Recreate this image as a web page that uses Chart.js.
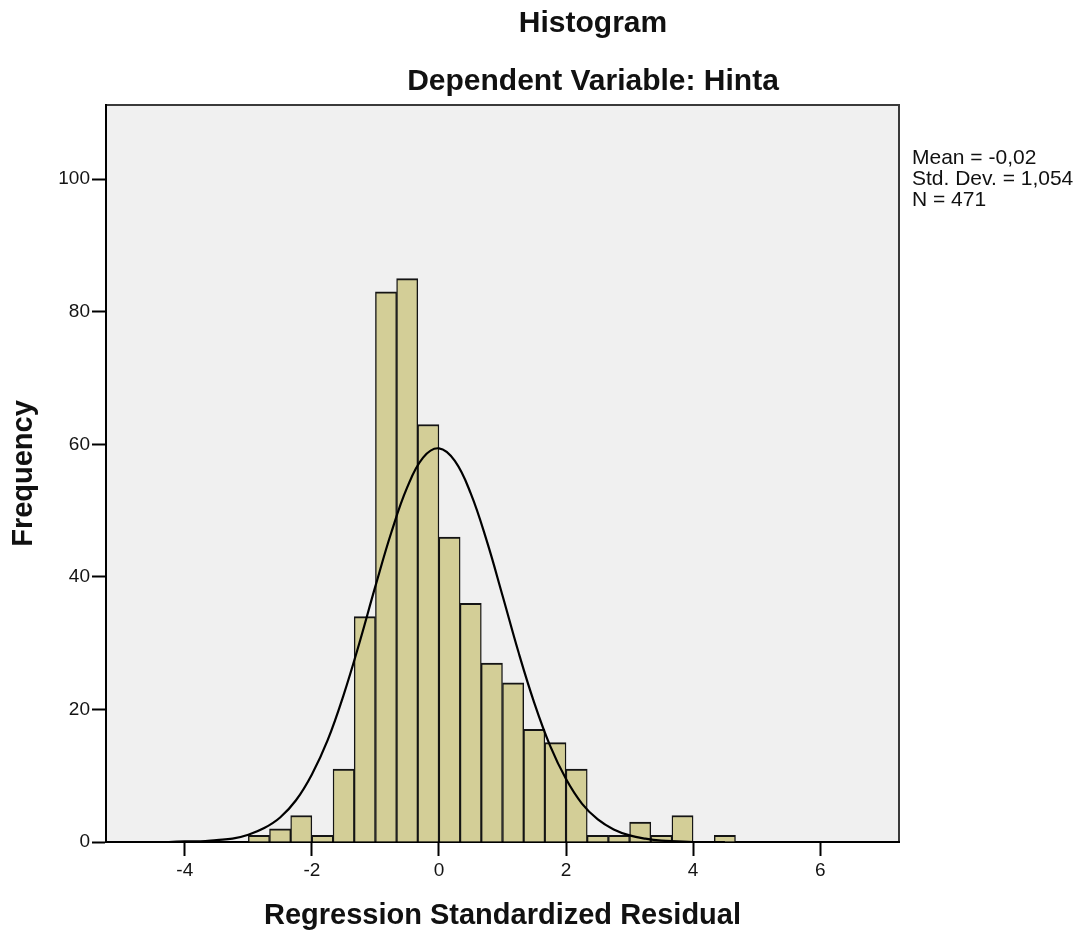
<!DOCTYPE html>
<html>
<head>
<meta charset="utf-8">
<title>Histogram</title>
<script src="https://cdn.jsdelivr.net/npm/chart.js@4.4.1/dist/chart.umd.min.js"></script>
<style>
  html, body { margin: 0; padding: 0; background: #fff; }
</style>
</head>
<body>
<canvas id="myChart" width="1086" height="930"></canvas>
<script>
// Histogram bins: midpoints of the 1/3 wide bins and their counts
const binMids = [-2.833, -2.5, -2.167, -1.833, -1.5, -1.167, -0.833, -0.5, -0.167,
                 0.167, 0.5, 0.833, 1.167, 1.5, 1.833, 2.167, 2.5, 2.833,
                 3.167, 3.5, 3.833, 4.167, 4.5];
const binCounts = [1, 2, 4, 1, 11, 34, 83, 85, 63,
                   46, 36, 27, 24, 17, 15, 11, 1, 1,
                   3, 1, 4, 0, 1];

// Normal curve
const curveX = [-4.5, -4.25, -4, -3.75, -3.5, -3.25, -3, -2.75, -2.5, -2.25, -2, -1.75,
                -1.5, -1.25, -1, -0.75, -0.5, -0.25, 0, 0.25, 0.5, 0.75, 1, 1.25,
                1.5, 1.75, 2, 2.25, 2.5, 2.75, 3, 3.25, 3.5, 3.75, 4, 4.25, 4.5];
const curveY = [0, 0, 0.1, 0.1, 0.3, 0.5, 1.1, 2.1, 3.7, 6.3, 10.2, 15.4,
                22.2, 30.1, 38.6, 46.7, 53.5, 58.0, 59.4, 57.5, 52.6, 45.5, 37.2, 28.7,
                21.0, 14.5, 9.5, 5.8, 3.4, 1.9, 1.0, 0.5, 0.2, 0.1, 0, 0, 0];

// Tick labels
const xTicks = [-4, -2, 0, 2, 4, 6];
const yTicks = [0, 20, 40, 60, 80, 100];

const titleLines = ["Histogram", "Dependent Variable: Hinta"];
const statLines = ["Mean = -0,02", "Std. Dev. = 1,054", "N = 471"];

const FONT = "'Liberation Sans', Arial, sans-serif";

// Grey plot background, frame, titles and the stats box (SPSS look)
const spssFrame = {
    id: 'spssFrame',
    beforeDraw(chart) {
        const { ctx, chartArea: a } = chart;
        ctx.save();
        ctx.fillStyle = '#f0f0f0';
        ctx.fillRect(a.left, a.top, a.right - a.left, a.bottom - a.top);
        ctx.strokeStyle = '#3a3a3a';
        ctx.lineWidth = 2;
        ctx.strokeRect(a.left, a.top, a.right - a.left, a.bottom - a.top);
        ctx.restore();
    },
    afterDraw(chart) {
        const ctx = chart.ctx;
        ctx.save();
        ctx.fillStyle = '#111';
        ctx.textAlign = 'center';
        ctx.textBaseline = 'alphabetic';
        ctx.font = "bold 30px " + FONT;
        ctx.fillText(titleLines[0], 593, 32);
        ctx.fillText(titleLines[1], 593, 90);

        ctx.textAlign = 'left';
        ctx.font = "21px " + FONT;
        statLines.forEach((s, i) => ctx.fillText(s, 912, 164 + i * 21));
        ctx.restore();
    }
};

const axisGrid = {
    display: true,
    drawOnChartArea: false,
    drawTicks: true,
    tickLength: 14,
    tickWidth: 2,
    tickColor: '#000',
    offset: false
};

const config = {
    type: 'bar',
    data: {
        datasets: [
            {
                type: 'line',
                data: curveX.map((x, i) => ({ x: x, y: curveY[i] })),
                borderColor: '#000',
                borderWidth: 2.2,
                pointRadius: 0,
                tension: 0.4,
                fill: false,
                order: 0
            },
            {
                type: 'bar',
                data: binMids.map((x, i) => ({ x: x, y: binCounts[i] })),
                backgroundColor: '#d3ce97',
                borderColor: '#141414',
                borderWidth: { top: 2, left: 1.4, right: 1.4, bottom: 0 },
                barPercentage: 1,
                categoryPercentage: 1,
                order: 1
            }
        ]
    },
    options: {
        responsive: false,
        animation: false,
        layout: { padding: { left: 0, top: 105, right: 187, bottom: 0 } },
        plugins: {
            legend: { display: false },
            tooltip: { enabled: false }
        },
        scales: {
            x: {
                type: 'linear',
                min: -5.24,
                max: 7.24,
                offset: false,
                z: 1,
                grid: axisGrid,
                border: { display: true, color: '#000', width: 2 },
                afterBuildTicks: s => { s.ticks = xTicks.map(v => ({ value: v })); },
                afterFit: s => { s.height = 88; },
                ticks: {
                    padding: 3,
                    color: '#141414',
                    font: { family: FONT, size: 19 },
                    maxRotation: 0
                },
                title: {
                    display: true,
                    text: 'Regression Standardized Residual',
                    color: '#111',
                    font: { family: FONT, size: 29, weight: 'bold', lineHeight: 1 },
                    padding: { top: 0, bottom: 0 }
                }
            },
            y: {
                min: 0,
                max: 111.2,
                z: 1,
                grid: axisGrid,
                border: { display: true, color: '#000', width: 2 },
                afterBuildTicks: s => { s.ticks = yTicks.map(v => ({ value: v })); },
                afterFit: s => { s.width = 106; },
                ticks: {
                    padding: 2,
                    color: '#141414',
                    font: { family: FONT, size: 19 }
                },
                title: {
                    display: true,
                    text: 'Frequency',
                    color: '#111',
                    font: { family: FONT, size: 29, weight: 'bold', lineHeight: 1 },
                    padding: { top: 9, bottom: 0 }
                }
            }
        }
    },
    plugins: [spssFrame]
};

var myChart = new Chart(document.getElementById('myChart'), config);
</script>
</body>
</html>
